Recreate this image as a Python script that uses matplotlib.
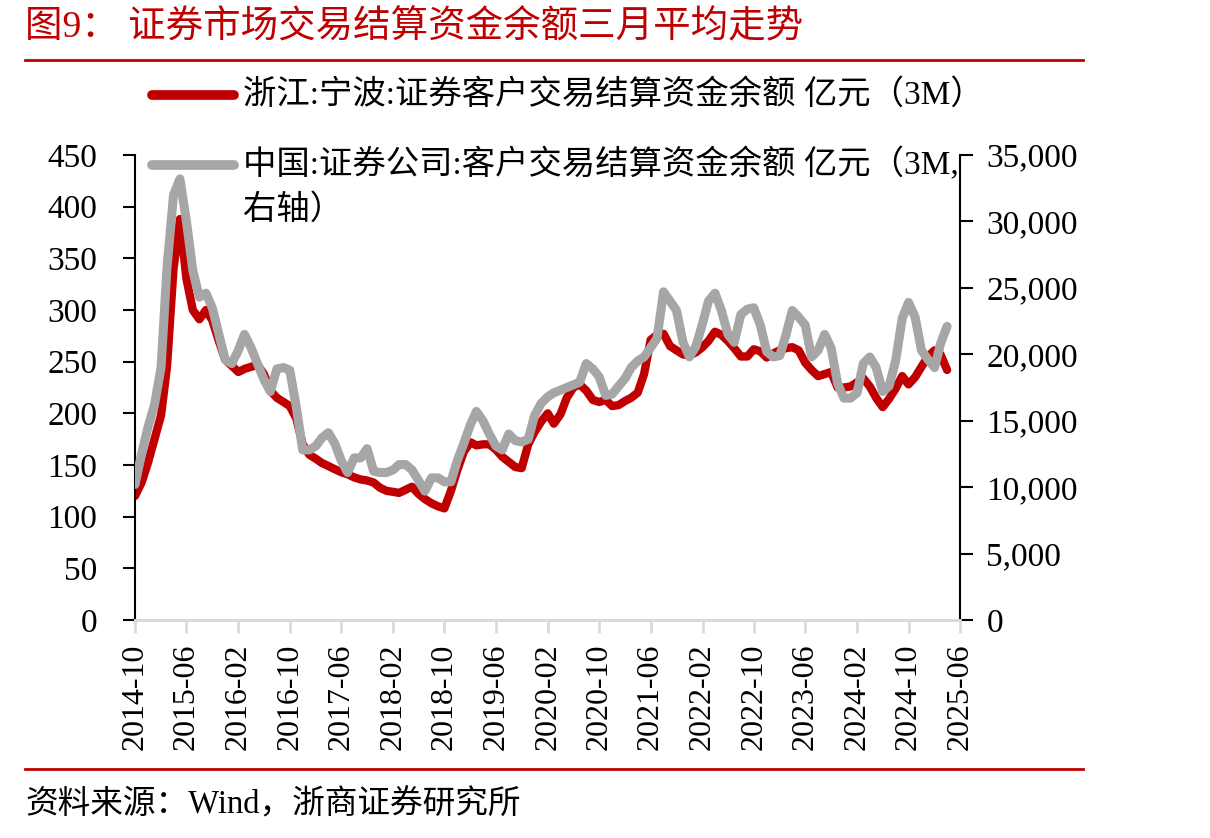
import numpy as np
import pandas as pd
import matplotlib
matplotlib.use('Agg')
import matplotlib.pyplot as plt
import matplotlib.dates as mdates
from matplotlib.lines import Line2D
from matplotlib.ticker import FuncFormatter

plt.rcParams['font.family'] = ['Liberation Serif', 'Noto Sans CJK SC']
plt.rcParams['axes.unicode_minus'] = False

# 月度数据, 2014-10 起
start_month = '2014-10-01'
ningbo = [120, 133, 152, 175, 198, 245, 340, 388, 330, 300,
          291, 300, 290, 270, 252, 246, 240, 243, 245, 247,
          238, 222, 215, 211, 207, 195, 170, 160, 156, 152,
          149, 146, 143, 141, 138, 136, 135, 133, 128, 125,
          124, 123, 126, 129, 122, 117, 113, 110, 108, 125,
          145, 163, 172, 169, 170, 170, 165, 158, 153, 148,
          147, 170, 182, 192, 200, 190, 199, 215, 225, 228,
          222, 213, 211, 213, 207, 208, 212, 215, 220, 238,
          271, 276, 277, 265, 261, 257, 256, 259, 264, 270,
          279, 276, 270, 263, 255, 255, 262, 260, 254, 258,
          261, 263, 264, 261, 249, 242, 236, 238, 240, 225,
          225, 226, 230, 234, 226, 215, 206, 214, 224, 236,
          228, 235, 245, 255, 261, 257, 242]
china = [10200, 12500, 14500, 16200, 19000, 26500, 32000, 33200, 30000, 26300,
         24300, 24600, 23500, 21500, 19600, 19300, 20300, 21500, 20500, 19300,
         18100, 17200, 18900, 19000, 18800, 16000, 12800, 12800, 13100, 13700,
         14100, 13300, 12000, 11100, 12200, 12200, 12900, 11200, 11100, 11100,
         11300, 11700, 11700, 11300, 10500, 9700, 10700, 10700, 10400, 10400,
         12000, 13300, 14700, 15700, 15000, 14000, 13100, 12800, 14000, 13500,
         13400, 13600, 15400, 16300, 16800, 17100, 17300, 17500, 17700, 17900,
         19300, 18900, 18300, 16900, 17000, 17600, 18200, 19000, 19500, 19800,
         20500, 21200, 24700, 24000, 23300, 20900, 19800, 20600, 22300, 24000,
         24600, 23300, 21500, 20900, 23000, 23400, 23500, 22200, 20200, 19800,
         19900, 21400, 23300, 22800, 22200, 19800, 20300, 21500, 20500, 17800,
         16700, 16700, 17100, 19300, 19800, 19000, 17200, 17600, 19500, 22700,
         23900, 22800, 20300, 19600, 19000, 20800, 22100]

label_ningbo = '浙江:宁波:证券客户交易结算资金余额 亿元（3M）'
label_china = '中国:证券公司:客户交易结算资金余额 亿元（3M,'
title = '图9： 证券市场交易结算资金余额三月平均走势'
source = '资料来源：Wind，浙商证券研究所'

RED = '#C00000'
GRAY = '#A6A6A6'

dates = pd.date_range(start_month, periods=len(ningbo), freq='MS')

fig = plt.figure(figsize=(12.1, 8.38), dpi=100)
ax = fig.add_axes([135/1210, 1-620/838, 825/1210, 465/838])
ax2 = ax.twinx()

ax.plot(dates, ningbo, color=RED, lw=6, solid_joinstyle='round', solid_capstyle='round')
ax2.plot(dates, china, color=GRAY, lw=6.5, solid_joinstyle='round', solid_capstyle='round')

ax.set_ylim(0, 450)
ax.set_yticks(np.arange(0, 451, 50))
ax2.set_ylim(0, 35000)
ax2.set_yticks(np.arange(0, 35001, 5000))
ax2.yaxis.set_major_formatter(FuncFormatter(lambda v, p: '{:,.0f}'.format(v)))

ax.set_xlim(pd.Timestamp('2014-10-01'), pd.Timestamp('2025-06-01'))
ax.set_xticks(pd.date_range('2014-10-01', '2025-06-01', freq='8MS'))
ax.xaxis.set_major_formatter(mdates.DateFormatter('%Y-%m'))

for a in (ax, ax2):
    a.spines['top'].set_visible(False)
    a.spines['bottom'].set_color('#D9D9D9')
    a.spines['bottom'].set_linewidth(2)
ax.spines['right'].set_visible(False)
ax2.spines['left'].set_visible(False)
ax.spines['left'].set_linewidth(1.5)
ax2.spines['right'].set_linewidth(1.5)

ax.tick_params(axis='y', direction='out', length=9, width=1.5, labelsize=24, pad=18)
ax2.tick_params(axis='y', direction='out', length=9, width=1.5, labelsize=24, pad=10)
ax.tick_params(axis='x', direction='out', length=9, width=2, color='#D9D9D9',
               labelsize=23, pad=8, labelrotation=90)

# 图例
def fx(px):
    return px / 1210

def fy(py):
    return 1 - py / 838

fig.add_artist(Line2D([fx(152), fx(234)], [fy(95), fy(95)], color=RED, lw=7,
                      solid_capstyle='round', transform=fig.transFigure))
fig.text(fx(243), fy(95), label_ningbo, fontsize=24, va='center', ha='left')
fig.add_artist(Line2D([fx(152), fx(234)], [fy(165), fy(165)], color=GRAY, lw=7,
                      solid_capstyle='round', transform=fig.transFigure))
fig.text(fx(243), fy(165), label_china, fontsize=24, va='center', ha='left')
fig.text(fx(243), fy(210), '右轴）', fontsize=24, va='center', ha='left')

# 标题和来源
fig.text(fx(25), fy(28), title, fontsize=27, color=RED, va='center', ha='left')
fig.add_artist(Line2D([fx(25), fx(1083)], [fy(60), fy(60)], color=RED, lw=2,
                      transform=fig.transFigure))
fig.add_artist(Line2D([fx(25), fx(1083)], [fy(769), fy(769)], color=RED, lw=2,
                      transform=fig.transFigure))
fig.text(fx(25), fy(805), source, fontsize=23.5, va='center', ha='left')

fig.savefig('out.png', dpi=100)
